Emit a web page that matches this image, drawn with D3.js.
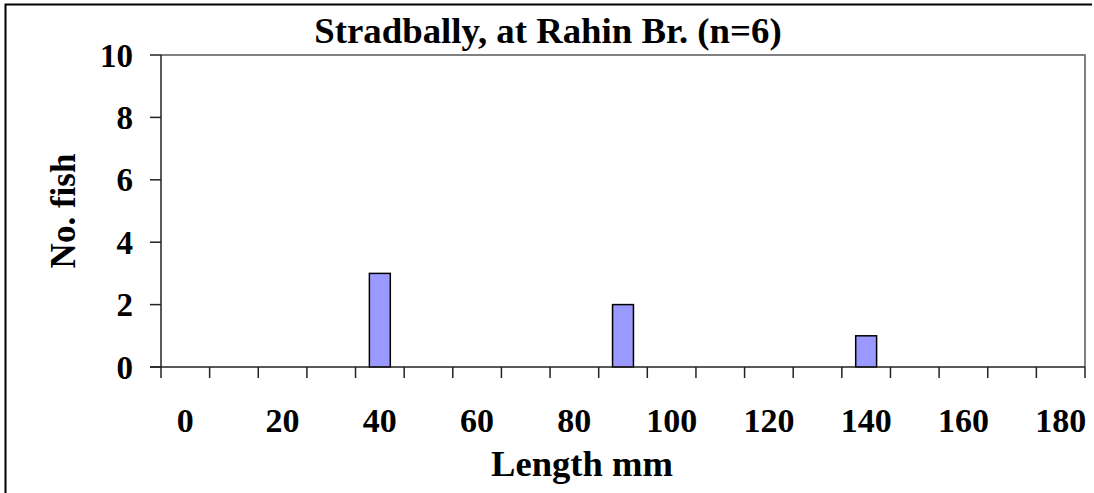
<!DOCTYPE html>
<html>
<head>
<meta charset="utf-8">
<script src="https://cdn.jsdelivr.net/npm/d3@7"></script>
<style>
  body { margin: 0; background: #fff; }
  text { font-family: "Liberation Serif", "Times New Roman", serif; font-weight: bold; fill: #000; }
</style>
</head>
<body>
<div id="chart"></div>
<script>
// length classes (mm) and fish counts
let lengths = [0, 10, 20, 30, 40, 50, 60, 70, 80, 90, 100, 110, 120, 130, 140, 150, 160, 170, 180];
let counts  = [0, 0, 0, 0, 3, 0, 0, 0, 0, 2, 0, 0, 0, 0, 1, 0, 0, 0, 0];
let xLabels = [0, 20, 40, 60, 80, 100, 120, 140, 160, 180];
let yTicks  = [0, 2, 4, 6, 8, 10];

let width = 1094, height = 493;
let plot = {left: 161, right: 1085, top: 55, bottom: 367};

let svg = d3.select("#chart")
    .append("svg")
    .attr("width", width)
    .attr("height", height);

// outer chart frame
svg.append("path")
    .attr("d", "M5.5," + height + " V4.5 H1092")
    .attr("fill", "none")
    .attr("stroke", "#000")
    .attr("stroke-width", 2);

let x = d3.scaleBand()
    .domain(lengths)
    .range([plot.left, plot.right])
    .padding(0);

let y = d3.scaleLinear()
    .domain([0, 10])
    .range([plot.bottom, plot.top]);

// plot area border (top + right, grey)
svg.append("path")
    .attr("d", "M" + plot.left + "," + plot.top + " H" + plot.right + " V" + plot.bottom)
    .attr("fill", "none")
    .attr("stroke", "#808080")
    .attr("stroke-width", 2);

// bars
let barW = x.bandwidth() * 0.43;
svg.append("g").selectAll("rect")
    .data(lengths.map((d, i) => ({len: d, n: counts[i]})).filter(d => d.n > 0))
    .enter()
    .append("rect")
    .attr("x", d => x(d.len) + (x.bandwidth() - barW) / 2)
    .attr("y", d => y(d.n))
    .attr("width", barW)
    .attr("height", d => y(0) - y(d.n))
    .attr("fill", "#9999FF")
    .attr("stroke", "#000")
    .attr("stroke-width", 1.5);

// y axis
svg.append("line")
    .attr("x1", plot.left).attr("x2", plot.left)
    .attr("y1", plot.top).attr("y2", plot.bottom)
    .attr("stroke", "#222").attr("stroke-width", 1.5);

let yg = svg.append("g");
yg.selectAll("line").data(yTicks).enter().append("line")
    .attr("x1", plot.left - 11).attr("x2", plot.left)
    .attr("y1", d => y(d)).attr("y2", d => y(d))
    .attr("stroke", "#222").attr("stroke-width", 1.5);
yg.selectAll("text").data(yTicks).enter().append("text")
    .attr("x", 133)
    .attr("y", d => y(d))
    .attr("dy", "0.35em")
    .style("text-anchor", "end")
    .style("font-size", "33px")
    .text(d => d);

// x axis
svg.append("line")
    .attr("x1", plot.left - 11).attr("x2", plot.right)
    .attr("y1", plot.bottom).attr("y2", plot.bottom)
    .attr("stroke", "#222").attr("stroke-width", 1.5);

let xg = svg.append("g");
let boundaries = lengths.map(d => x(d)).concat([x.range()[1]]);
xg.selectAll("line").data(boundaries).enter().append("line")
    .attr("x1", d => d).attr("x2", d => d)
    .attr("y1", plot.bottom).attr("y2", plot.bottom + 11)
    .attr("stroke", "#222").attr("stroke-width", 1.5);
xg.selectAll("text").data(xLabels).enter().append("text")
    .attr("x", d => x(d) + x.bandwidth() / 2)
    .attr("y", 432)
    .style("text-anchor", "middle")
    .style("font-size", "34px")
    .text(d => d);

// titles
svg.append("text")
    .attr("x", 548).attr("y", 43)
    .style("text-anchor", "middle")
    .style("font-size", "36.8px")
    .text("Stradbally, at Rahin Br. (n=6)");

svg.append("text")
    .attr("x", 582).attr("y", 476)
    .style("text-anchor", "middle")
    .style("font-size", "36.6px")
    .text("Length mm");

svg.append("text")
    .attr("transform", "translate(75,211) rotate(-90)")
    .style("text-anchor", "middle")
    .style("font-size", "35px")
    .text("No. fish");
</script>
</body>
</html>
